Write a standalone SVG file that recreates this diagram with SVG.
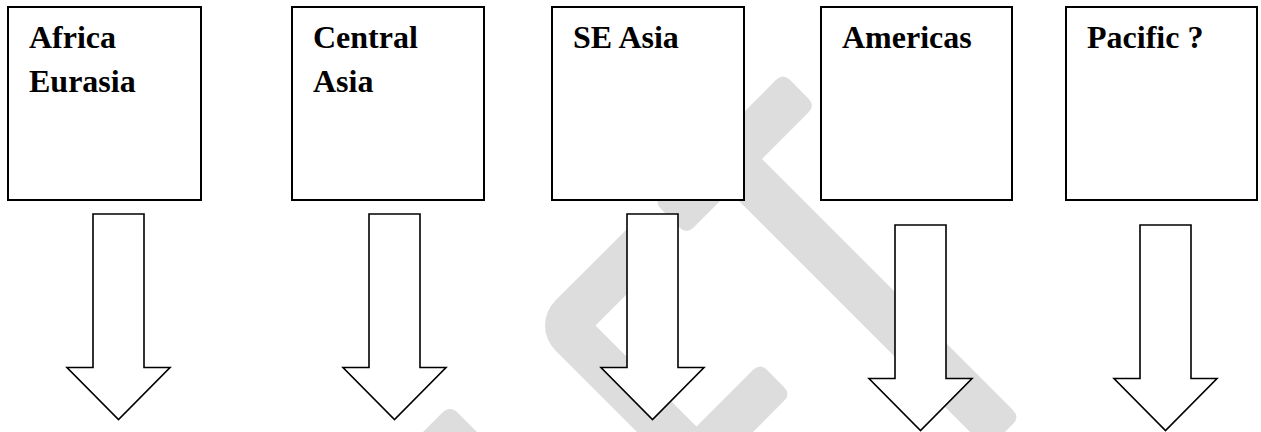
<svg xmlns="http://www.w3.org/2000/svg" xmlns:xlink="http://www.w3.org/1999/xlink" width="1261" height="432" viewBox="0 0 1261 432">
  <style>
    .wm { fill: #dddddd; stroke: none; }
    .box { fill: #ffffff; stroke: #000000; stroke-width: 2; }
    .lbl { font-family: "Liberation Serif", "Times New Roman", serif; font-weight: bold; font-size: 32px; fill: #000000; }
    .arr { fill: #ffffff; stroke: #000000; stroke-width: 1.6; stroke-linejoin: miter; }
  </style>
  <defs>
    <path id="arr" d="M-25.5 0 H25.5 V153.5 H51.5 L0 205.5 L-51.5 153.5 H-25.5 Z"/>
  </defs>
  <rect width="1261" height="432" fill="#ffffff"/>
  <g id="watermark">
    <path class="wm" d="M661.1 194.9 L775.9 80.1 Q783 73 790.1 80.1 L808.4 98.4 Q815.5 105.5 808.4 112.6 L693.6 227.4 Q686.5 234.5 679.4 227.4 L661.1 209.1 Q654 202 661.1 194.9 Z"/>
    <path class="wm" d="M635.5 220.5 L555.2 300.8 A35 35 0 0 0 555.2 350.2 L695 490 L783.9 401.1 Q791 394 783.9 386.9 L767.1 370.1 Q760 363 752.9 370.1 L696.5 426.5 L595.5 325.5 L668 253 Z"/>
    <path class="wm" d="M741.5 138.5 L1012.9 409.9 Q1020 417 1012.9 424.1 L987.5 449.5 L709 171 Z"/>
    <path class="wm" d="M370 485 L442 413 Q450 405 458 413 L530 485 Z"/>
  </g>
  <g id="node-africa-eurasia">
    <rect class="box" x="8" y="7" width="193" height="193"/>
    <text class="lbl" x="29" y="48">Africa</text>
    <text class="lbl" x="29" y="92">Eurasia</text>
  </g>
  <g id="node-central-asia">
    <rect class="box" x="292" y="7" width="192" height="193"/>
    <text class="lbl" x="313" y="48">Central</text>
    <text class="lbl" x="313" y="92">Asia</text>
  </g>
  <g id="node-se-asia">
    <rect class="box" x="552" y="7" width="192" height="193"/>
    <text class="lbl" x="573" y="48">SE Asia</text>
  </g>
  <g id="node-americas">
    <rect class="box" x="821" y="7" width="191" height="193"/>
    <text class="lbl" x="842" y="48">Americas</text>
  </g>
  <g id="node-pacific">
    <rect class="box" x="1066" y="7" width="191" height="193"/>
    <text class="lbl" x="1087" y="48">Pacific ?</text>
  </g>
  <g id="connectors">
    <use class="arr" href="#arr" xlink:href="#arr" x="118.5" y="214"/>
    <use class="arr" href="#arr" xlink:href="#arr" x="394.5" y="214"/>
    <use class="arr" href="#arr" xlink:href="#arr" x="652.5" y="214"/>
    <use class="arr" href="#arr" xlink:href="#arr" x="920.5" y="225"/>
    <use class="arr" href="#arr" xlink:href="#arr" x="1165.5" y="225"/>
  </g>
</svg>
